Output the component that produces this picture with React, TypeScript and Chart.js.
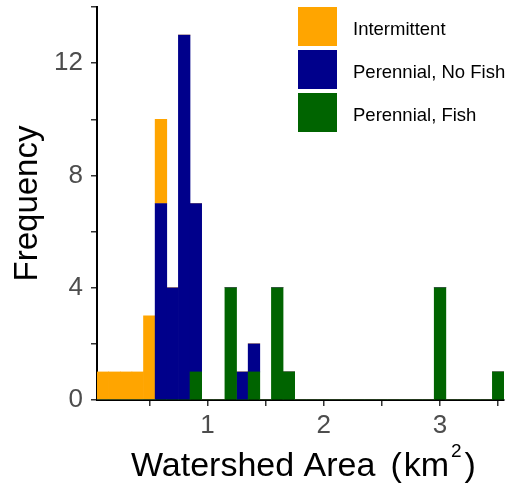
import React, { useEffect, useRef } from 'react';
import { Chart, registerables } from 'chart.js';

Chart.register(...registerables);

const FONT = "'Liberation Sans', Arial, sans-serif";

// Histogram bin centres (bin width 0.1 km², edges at x.x5)
const binCenters = [
  0.1, 0.2, 0.3, 0.4, 0.5, 0.6, 0.7, 0.8, 0.9, 1.0,
  1.1, 1.2, 1.3, 1.4, 1.5, 1.6, 1.7, 1.8, 1.9, 2.0,
  2.1, 2.2, 2.3, 2.4, 2.5, 2.6, 2.7, 2.8, 2.9, 3.0,
  3.1, 3.2, 3.3, 3.4, 3.5,
];

const intermittent = [
  1, 1, 1, 1, 3, 3, 0, 0, 0, 0,
  0, 0, 0, 0, 0, 0, 0, 0, 0, 0,
  0, 0, 0, 0, 0, 0, 0, 0, 0, 0,
  0, 0, 0, 0, 0,
];

const perennialNoFish = [
  0, 0, 0, 0, 0, 7, 4, 13, 6, 0,
  0, 0, 1, 1, 0, 0, 0, 0, 0, 0,
  0, 0, 0, 0, 0, 0, 0, 0, 0, 0,
  0, 0, 0, 0, 0,
];

const perennialFish = [
  0, 0, 0, 0, 0, 0, 0, 0, 1, 0,
  0, 4, 0, 1, 0, 4, 1, 0, 0, 0,
  0, 0, 0, 0, 0, 0, 0, 0, 0, 4,
  0, 0, 0, 0, 1,
];

const seriesNames = ['Intermittent', 'Perennial, No Fish', 'Perennial, Fish'];
const seriesColors = ['#FFA500', '#00008B', '#006400'];

const xTicks = [0.5, 1, 1.5, 2, 2.5, 3, 3.5];
const xTickLabels = ['', '1', '', '2', '', '3', ''];
const yTicks = [0, 2, 4, 6, 8, 10, 12, 14];
const yTickLabels = ['0', '', '4', '', '8', '', '12', ''];

const xTitleMain = 'Watershed Area';
const xTitleOpen = '(';
const xTitleUnit = 'km';
const xTitleSup = '2';
const xTitleEnd = ')';
const yTitle = 'Frequency';

const legendPlugin = {
  id: 'customLegend',
  afterDraw(chart: any) {
    const ctx = chart.ctx;
    ctx.save();
    const boxX = 298;
    const boxW = 39;
    const boxH = 39;
    const step = 43;
    const top = 7;
    seriesNames.forEach((name, i) => {
      const y = top + i * step;
      ctx.fillStyle = seriesColors[i];
      ctx.fillRect(boxX, y, boxW, boxH);
      ctx.fillStyle = '#000000';
      ctx.font = `18.5px ${FONT}`;
      ctx.textAlign = 'left';
      ctx.textBaseline = 'alphabetic';
      ctx.fillText(name, 353, y + 28);
    });
    ctx.restore();
  },
};

const xTitlePlugin = {
  id: 'xTitle',
  afterDraw(chart: any) {
    const ctx = chart.ctx;
    const area = chart.chartArea;
    ctx.save();
    const mainFont = `34px ${FONT}`;
    const supFont = `19px ${FONT}`;
    const baseline = 476;
    ctx.fillStyle = '#000000';
    ctx.textAlign = 'left';
    ctx.textBaseline = 'alphabetic';
    let x = area.left + 34;
    ctx.font = mainFont;
    ctx.fillText(xTitleMain, x, baseline);
    x += ctx.measureText(xTitleMain).width + 15;
    ctx.fillText(xTitleOpen, x, baseline);
    x += ctx.measureText(xTitleOpen).width + 2;
    ctx.fillText(xTitleUnit, x, baseline);
    x += ctx.measureText(xTitleUnit).width + 2;
    ctx.font = supFont;
    ctx.fillText(xTitleSup, x, baseline - 19);
    x += ctx.measureText(xTitleSup).width + 3;
    ctx.font = mainFont;
    ctx.fillText(xTitleEnd, x, baseline);
    ctx.restore();
  },
};

export default function App() {
  const canvasRef = useRef<HTMLCanvasElement | null>(null);

  useEffect(() => {
    if (!canvasRef.current) return;
    const toPoints = (arr: number[]) => arr.map((v, i) => ({ x: binCenters[i], y: v }));
    const chart = new Chart(canvasRef.current, {
      type: 'bar',
      data: {
        datasets: [
          {
            label: seriesNames[2],
            data: toPoints(perennialFish),
            backgroundColor: seriesColors[2],
            borderWidth: 0,
            barPercentage: 1,
            categoryPercentage: 1,
          },
          {
            label: seriesNames[1],
            data: toPoints(perennialNoFish),
            backgroundColor: seriesColors[1],
            borderWidth: 0,
            barPercentage: 1,
            categoryPercentage: 1,
          },
          {
            label: seriesNames[0],
            data: toPoints(intermittent),
            backgroundColor: seriesColors[0],
            borderWidth: 0,
            barPercentage: 1,
            categoryPercentage: 1,
          },
        ],
      } as any,
      options: {
        responsive: false,
        animation: false,
        layout: { padding: { left: 0, top: 7, right: 7, bottom: 0 } },
        plugins: {
          legend: { display: false },
          tooltip: { enabled: false },
        },
        scales: {
          x: {
            type: 'linear',
            min: 0.05,
            max: 3.55,
            stacked: true,
            offset: false,
            afterBuildTicks: (axis: any) => {
              axis.ticks = xTicks.map((v) => ({ value: v }));
            },
            afterFit: (s: any) => {
              s.height = 95;
              s.paddingLeft = 0;
              s.paddingRight = 0;
            },
            ticks: {
              autoSkip: false,
              maxRotation: 0,
              minRotation: 0,
              padding: 4,
              color: '#4D4D4D',
              font: { family: FONT, size: 26 },
              callback: (_v: any, i: number) => xTickLabels[i],
            },
            grid: {
              display: true,
              offset: false,
              drawOnChartArea: false,
              drawTicks: true,
              tickLength: 6,
              color: '#333333',
              lineWidth: 1.5,
            },
            border: { display: true, color: '#000000', width: 2 },
          },
          y: {
            min: 0,
            max: 14,
            stacked: true,
            afterBuildTicks: (axis: any) => {
              axis.ticks = yTicks.map((v) => ({ value: v }));
            },
            afterFit: (s: any) => {
              s.width = 97;
              s.paddingTop = 0;
              s.paddingBottom = 0;
            },
            ticks: {
              autoSkip: false,
              padding: 8,
              color: '#4D4D4D',
              font: { family: FONT, size: 26 },
              callback: (_v: any, i: number) => yTickLabels[i],
            },
            grid: {
              display: true,
              offset: false,
              drawOnChartArea: false,
              drawTicks: true,
              tickLength: 6,
              color: '#333333',
              lineWidth: 1.5,
            },
            border: { display: true, color: '#000000', width: 2 },
            title: {
              display: true,
              text: yTitle,
              color: '#000000',
              font: { family: FONT, size: 33 },
              padding: { top: 8, bottom: 0 },
            },
          },
        },
      } as any,
      plugins: [legendPlugin, xTitlePlugin],
    });
    return () => chart.destroy();
  }, []);

  return (
    <div style={{ position: 'fixed', left: 0, top: 0, width: 511, height: 495, background: '#ffffff' }}>
      <canvas ref={canvasRef} width={511} height={495} style={{ display: 'block' }} />
    </div>
  );
}
